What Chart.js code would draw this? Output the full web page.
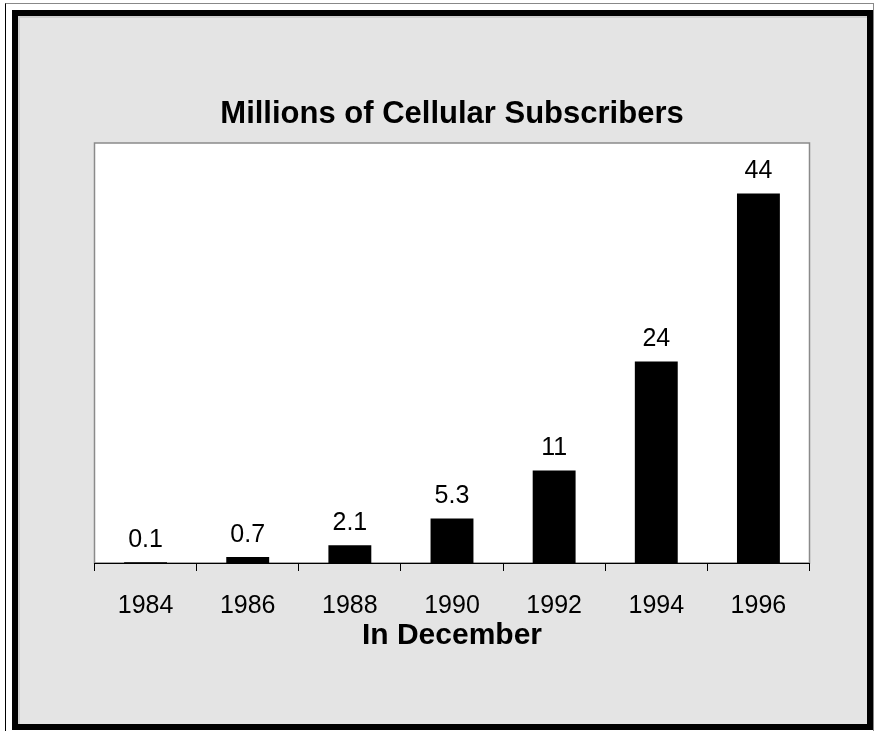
<!DOCTYPE html>
<html>
<head>
<meta charset="utf-8">
<script src="https://cdn.jsdelivr.net/npm/chart.js@4/dist/chart.umd.min.js"></script>
<style>
  html, body { margin: 0; padding: 0; background: #fff; }
  #page { position: relative; width: 875px; height: 731px; overflow: hidden; background: #fff; }
  #outer { position: absolute; left: 5px; top: 3px; width: 869px; height: 728px;
           border-left: 1px solid #000; border-top: 1px solid #888; border-right: 1px solid #888; box-sizing: border-box; }
  #frame { position: absolute; left: 12px; top: 10px; width: 861px; height: 720px;
           border: 6px solid #000; background: #e4e4e4; box-sizing: border-box; }
  #frame::before { content: ''; position: absolute; left: 0; top: 0; right: 0; bottom: 0;
           border-left: 2px solid #cfcfcf; border-top: 2px solid #cfcfcf; }
  canvas { position: absolute; left: 0; top: 0; }
</style>
</head>
<body>
<div id="page">
  <div id="outer"></div>
  <div id="frame"></div>
  <canvas id="subsChart" width="875" height="731"></canvas>
</div>
<script>
const years = ['1984', '1986', '1988', '1990', '1992', '1994', '1996'];
const subscribers = [0.1, 0.7, 2.1, 5.3, 11, 24, 44];
const valueLabels = ['0.1', '0.7', '2.1', '5.3', '11', '24', '44'];

const fontFamily = "'Liberation Sans', Arial, sans-serif";

// white plot area with grey frame, like the old spreadsheet chart
const plotBackground = {
  id: 'plotBackground',
  beforeDraw(chart) {
    const { ctx, chartArea } = chart;
    ctx.save();
    ctx.fillStyle = '#fff';
    ctx.fillRect(chartArea.left, chartArea.top, chartArea.right - chartArea.left, chartArea.bottom - chartArea.top);
    ctx.strokeStyle = '#8a8a8a';
    ctx.lineWidth = 1.5;
    ctx.strokeRect(chartArea.left, chartArea.top, chartArea.right - chartArea.left, chartArea.bottom - chartArea.top);
    ctx.restore();
  }
};

const barValues = {
  id: 'barValues',
  afterDatasetsDraw(chart) {
    const { ctx } = chart;
    const meta = chart.getDatasetMeta(0);
    ctx.save();
    ctx.font = '25px ' + fontFamily;
    ctx.fillStyle = '#000';
    ctx.textAlign = 'center';
    ctx.textBaseline = 'alphabetic';
    meta.data.forEach((bar, i) => {
      ctx.fillText(valueLabels[i], bar.x, bar.y - 15.5);
    });
    ctx.restore();
  }
};

const ctx = document.getElementById('subsChart').getContext('2d');
const chart = new Chart(ctx, {
  type: 'bar',
  data: {
    labels: years,
    datasets: [{
      data: subscribers,
      backgroundColor: '#000',
      borderWidth: 0,
      barPercentage: 0.42,
      categoryPercentage: 1
    }]
  },
  options: {
    responsive: false,
    animation: false,
    layout: { padding: { top: 96, left: 94.5, right: 65.5, bottom: 78.5 } },
    plugins: {
      legend: { display: false },
      tooltip: { enabled: false },
      title: {
        display: true,
        text: 'Millions of Cellular Subscribers',
        color: '#000',
        font: { family: fontFamily, size: 31, weight: 'bold', lineHeight: 1.2 },
        padding: { top: 0, bottom: 9.8 }
      }
    },
    scales: {
      x: {
        offset: true,
        grid: {
          offset: true,
          drawOnChartArea: false,
          drawTicks: true,
          tickLength: 8,
          color: '#000',
          lineWidth: 1
        },
        border: { display: true, color: '#000', width: 1 },
        ticks: {
          color: '#000',
          padding: 20,
          font: { family: fontFamily, size: 25, lineHeight: 1.2 }
        },
        title: {
          display: true,
          text: 'In December',
          color: '#000',
          padding: { top: -21.5, bottom: 0 },
          font: { family: fontFamily, size: 30, weight: 'bold', lineHeight: 1.1 }
        }
      },
      y: {
        display: false,
        min: 0,
        max: 50
      }
    }
  },
  plugins: [plotBackground, barValues]
});
</script>
</body>
</html>
